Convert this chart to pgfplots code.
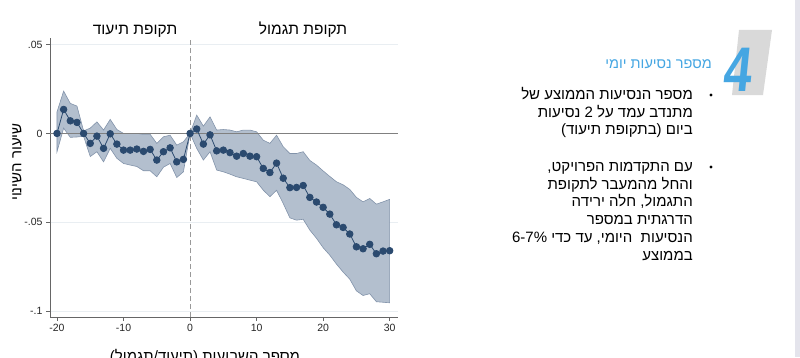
\documentclass[border=0pt]{standalone}
\usepackage{fontspec}
\setmainfont{Liberation Sans}
\newfontfamily\heb[Script=Hebrew]{Liberation Sans}
\TeXXeTstate=1
\usepackage{pgfplots}
\pgfplotsset{compat=1.18}
\usepackage{pgfplotstable}
\usepgfplotslibrary{fillbetween}
\definecolor{navy}{HTML}{2B4A6F}
\definecolor{bandfill}{HTML}{B3BFCE}
\definecolor{bandedge}{HTML}{8293AA}
\definecolor{axgray}{HTML}{666666}
\definecolor{zerogray}{HTML}{808080}
\definecolor{gridc}{HTML}{E9EEF2}
\definecolor{titleblue}{HTML}{45A6E2}
\definecolor{stripe}{HTML}{E4E4EC}
\definecolor{paral}{HTML}{D9D9D9}
\newcommand{\R}[1]{{\heb\beginR #1\endR}}

\pgfplotstableread{
x est lo hi
-20 0 -0.0103 0.0121
-19 0.0135 0.0030 0.0238
-18 0.0071 -0.0022 0.0169
-17 0.0062 -0.0020 0.0154
-16 0 -0.0016 0.0014
-15 -0.0056 -0.0130 0.0030
-14 -0.0015 -0.0103 0.0065
-13 -0.0084 -0.0160 0.0019
-12 -0.0002 -0.0084 0.0079
-11 -0.0060 -0.0140 0.0022
-10 -0.0094 -0.0169 0.0000
-9 -0.0094 -0.0178 0.0000
-8 -0.0088 -0.0186 0.0000
-7 -0.0101 -0.0210 -0.0005
-6 -0.0090 -0.0210 -0.0005
-5 -0.0150 -0.0244 -0.0056
-4 -0.0103 -0.0190 -0.0019
-3 -0.0081 -0.0169 -0.0010
-2 -0.0160 -0.0248 -0.0066
-1 -0.0146 -0.0216 -0.0047
0 0 0 0
1 0.0025 -0.0084 0.0103
2 -0.0060 -0.0150 0.0041
3 -0.0008 -0.0103 0.0093
4 -0.0098 -0.0206 0.0019
5 -0.0094 -0.0216 0.0022
6 -0.0108 -0.0229 0.0019
7 -0.0128 -0.0244 0.0009
8 -0.0113 -0.0253 0.0019
9 -0.0128 -0.0263 0.0019
10 -0.0131 -0.0272 0.0009
11 -0.0197 -0.0319 -0.0038
12 -0.0220 -0.0356 -0.0056
13 -0.0167 -0.0320 -0.0010
14 -0.0252 -0.0394 -0.0075
15 -0.0305 -0.0475 -0.0113
16 -0.0304 -0.0488 -0.0113
17 -0.0293 -0.0483 -0.0103
18 -0.0360 -0.0544 -0.0152
19 -0.0386 -0.0590 -0.0178
20 -0.0416 -0.0643 -0.0211
21 -0.0454 -0.0685 -0.0242
22 -0.0514 -0.0735 -0.0272
23 -0.0529 -0.0780 -0.0289
24 -0.0566 -0.0820 -0.0315
25 -0.0638 -0.0886 -0.0360
26 -0.0649 -0.0912 -0.0385
27 -0.0624 -0.0902 -0.0366
28 -0.0677 -0.0947 -0.0398
29 -0.0662 -0.0950 -0.0385
30 -0.0660 -0.0953 -0.0371
}\data

\begin{document}
\begin{tikzpicture}
\fill[stripe] (795pt,0pt) rectangle (800pt,357pt);

\begin{axis}[
  at={(50pt,40pt)}, anchor=south west, scale only axis,
  width=348pt, height=279pt,
  xmin=-21.05, xmax=31.25, ymin=-0.1033, ymax=0.0537,
  axis x line*=bottom, axis y line*=left,
  axis line style={axgray, line width=0.8pt},
  tick align=outside, major tick length=4pt,
  tick style={axgray, line width=0.8pt},
  xtick={-20,-10,0,10,20,30},
  xticklabels={-20,-10,0,10,20,30},
  ytick={-0.1,-0.05,0,0.05},
  yticklabels={-.1,-.05,0,.05},
  ticklabel style={font=\fontsize{10.5}{12}\selectfont, text=black!85},
  ymajorgrids, grid style={gridc, line width=0.6pt},
]
\addplot[name path=hi, draw=none, forget plot] table[x=x, y=hi] {\data};
\addplot[name path=lo, draw=none, forget plot] table[x=x, y=lo] {\data};
\addplot[fill=bandfill, draw=bandedge, line width=0.6pt, on layer=main] fill between[of=hi and lo];
\addplot[zerogray, line width=1pt] coordinates {(-21.05,0) (31.25,0)};
\addplot[gray!80, line width=0.8pt, dash pattern=on 5pt off 3pt] coordinates {(0,-0.1033) (0,0.0537)};
\addplot[navy, line width=0.8pt, mark=*, mark size=3.3pt, mark options={fill=navy, draw=navy}] table[x=x, y=est] {\data};
\end{axis}

% panel titles
\node[font=\fontsize{15.5}{17}\selectfont, anchor=base] at (135pt,323pt) {\R{תקופת תיעוד}};
\node[font=\fontsize{15.5}{17}\selectfont, anchor=base] at (303pt,323pt) {\R{תקופת תגמול}};
% axis titles
\node[font=\fontsize{15}{17}\selectfont, rotate=90] at (17pt,195pt) {\R{שיעור השינוי}};
\node[font=\fontsize{15}{17}\selectfont, anchor=base] at (205pt,-4pt) {\R{מספר השבועות (תיעוד/תגמול)}};

% right panel
\fill[paral] (739pt,327pt) -- (772pt,327pt) -- (763pt,262pt) -- (732pt,262pt) -- cycle;
\begin{scope}[shift={(739pt,287.5pt)}, xslant=0.1]
\node[transform shape, text=titleblue, font=\fontsize{63}{63}\selectfont\bfseries, inner sep=0pt] at (0pt,0pt) {\scalebox{0.8}[1]{4}};
\end{scope}
\node[text=titleblue, font=\fontsize{14.5}{16}\selectfont, anchor=east, inner sep=0pt] at (712pt,293pt) {\R{מספר נסיעות יומי}};

\fill[black] (711pt,262pt) circle (1.6pt);
\fill[black] (711pt,190pt) circle (1.6pt);
\begin{scope}[every node/.style={anchor=base east, inner sep=0pt, font=\fontsize{15}{17}\selectfont}]
\node at (693pt,257.5pt) {\R{מספר הנסיעות הממוצע של}};
\node at (693pt,239.8pt) {\R{מתנדב עמד על 2 נסיעות}};
\node at (693pt,222.1pt) {\R{ביום (בתקופת תיעוד)}};
\node at (693pt,185.5pt) {\R{עם התקדמות הפרויקט,}};
\node at (693pt,167.8pt) {\R{והחל מהמעבר לתקופת}};
\node at (693pt,150.1pt) {\R{התגמול, חלה ירידה}};
\node at (693pt,132.4pt) {\R{הדרגתית במספר}};
\node at (693pt,114.7pt) {\R{הנסיעות\ \ היומי, עד כדי \beginL 6-7\%\endL}};
\node at (693pt,97pt) {\R{בממוצע}};
\end{scope}
\pgfresetboundingbox
\path[use as bounding box] (0pt,0pt) rectangle (800pt,357pt);
\end{tikzpicture}
\end{document}
